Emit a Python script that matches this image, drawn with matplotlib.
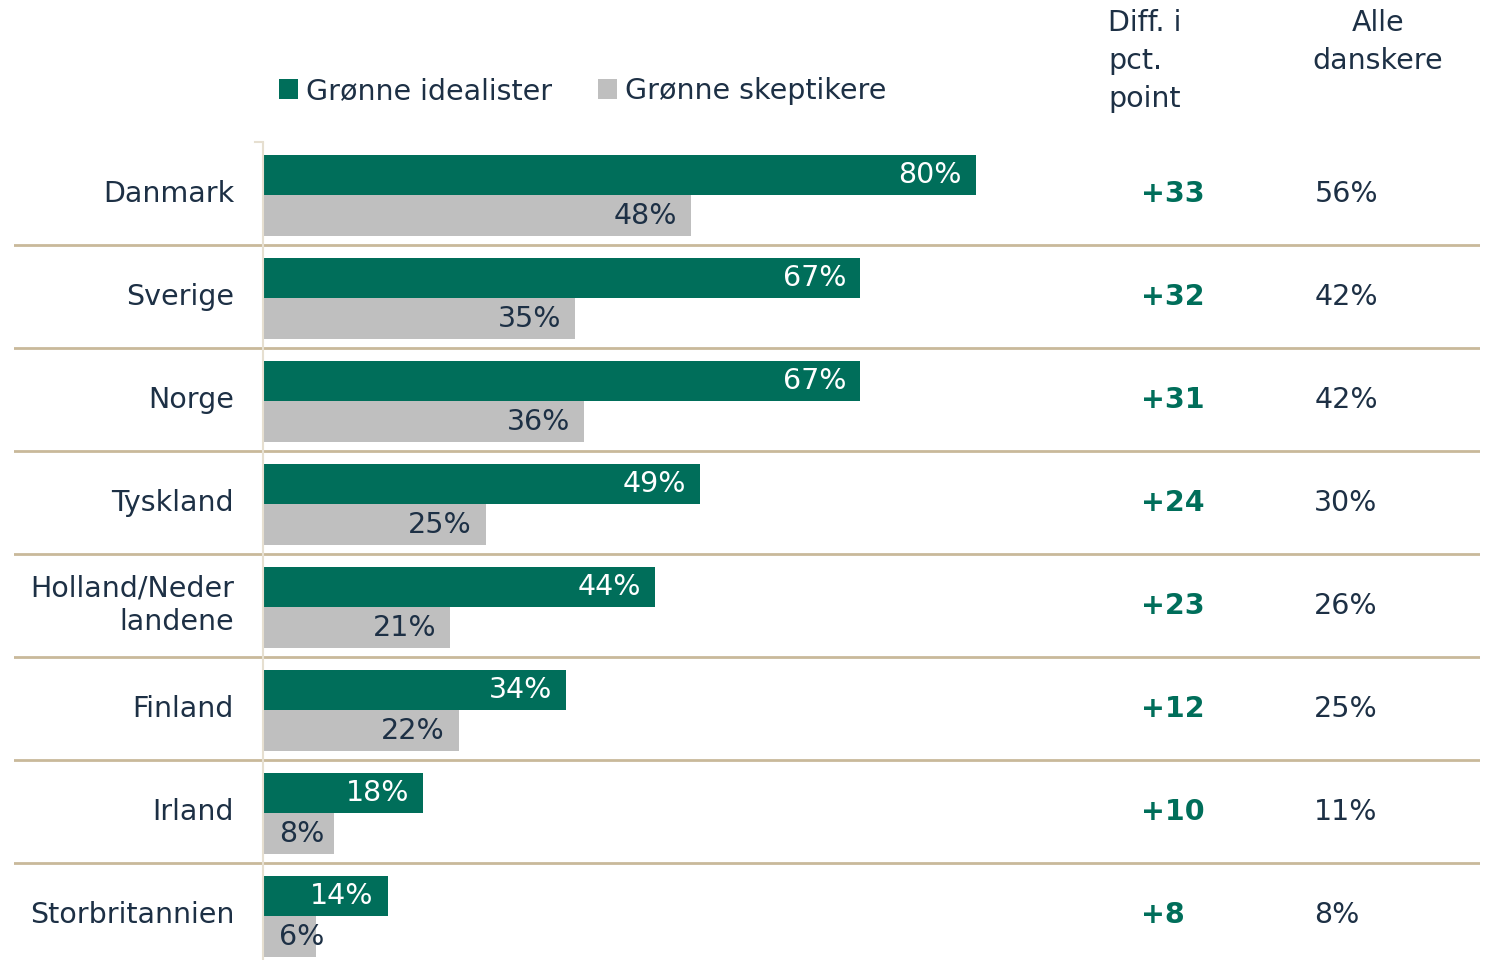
import matplotlib.pyplot as plt

countries = ['Danmark', 'Sverige', 'Norge', 'Tyskland', 'Holland/Neder\nlandene',
             'Finland', 'Irland', 'Storbritannien']
idealister = [80, 67, 67, 49, 44, 34, 18, 14]
skeptikere = [48, 35, 36, 25, 21, 22, 8, 6]
diff = [33, 32, 31, 24, 23, 12, 10, 8]
alle = [56, 42, 42, 30, 26, 25, 11, 8]

GREEN = '#006e5a'
GRAY = '#bfbfbf'
TXT = '#1d3045'
SEP = '#c9b99a'

plt.rcParams['font.family'] = ['DejaVu Sans']

fig = plt.figure(figsize=(14.88, 9.6), dpi=100)
ax = fig.add_axes([14/1488, 0, 1466/1488, 818/960])

ypos = list(range(len(countries)))
y_green = [y - 0.18 for y in ypos]
y_gray = [y + 0.214 for y in ypos]
ax.barh(y_green, idealister, height=0.39, color=GREEN, label='Grønne idealister')
ax.barh(y_gray, skeptikere, height=0.40, color=GRAY, label='Grønne skeptikere')

ax.set_xlim(-27.95, 136.6)
ax.set_ylim(7.44, -0.5)
ax.axis('off')

for i in range(len(countries) - 1):
    ax.axhline(i + 0.5, color=SEP, lw=2)
ax.axvline(0, color='#e6dfd0', lw=1.5)
ax.plot([-0.9, 0], [-0.5, -0.5], color='#e6dfd0', lw=1.5, clip_on=False)

fs = 20.5
for i, c in enumerate(countries):
    ax.text(-3.25, i, c, ha='right', va='center', fontsize=fs, color=TXT,
            linespacing=1.25)
    ax.annotate(f'{idealister[i]}%', xy=(idealister[i], y_green[i]), xytext=(-10, 0),
                textcoords='offset points', ha='right', va='center',
                fontsize=fs, color='white')
    # small values keep a minimum position so the label stays off the axis line
    gx = max(skeptikere[i], 8.5)
    ax.annotate(f'{skeptikere[i]}%', xy=(gx, y_gray[i]), xytext=(-10, 0),
                textcoords='offset points', ha='right', va='center',
                fontsize=fs, color=TXT)
    ax.text(98.6, i, f'+{diff[i]}', ha='left', va='center', fontsize=fs,
            color=GREEN, fontweight='bold')
    ax.text(118.0, i, f'{alle[i]}%', ha='left', va='center', fontsize=fs, color=TXT)

fig.text(1108/1488, 1 - 9/960, 'Diff. i\npct.\npoint', ha='left', va='top',
         fontsize=fs, color=TXT, linespacing=1.45)
fig.text(1378/1488, 1 - 9/960, 'Alle\ndanskere', ha='center', va='top',
         fontsize=fs, color=TXT, linespacing=1.45)

fig.legend(loc='center left', bbox_to_anchor=(268/1488, 1 - 91/960), ncol=2,
           frameon=False, fontsize=fs, labelcolor=TXT, handlelength=0.65,
           handleheight=0.65, handletextpad=0.3, columnspacing=1.6,
           borderaxespad=0)

fig.savefig('out.png', dpi=100)
